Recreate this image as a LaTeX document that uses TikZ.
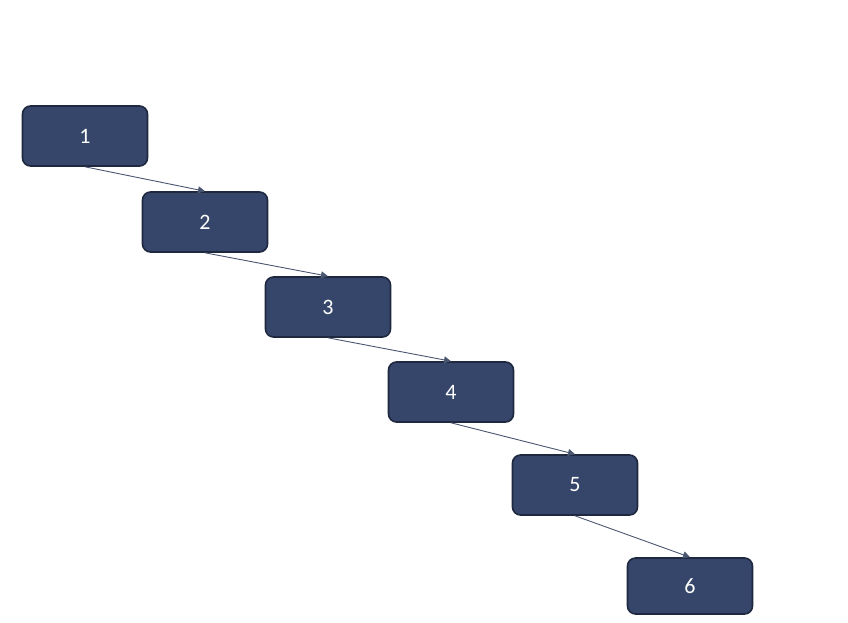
\documentclass[tikz,border=0pt]{standalone}
\usepackage{fontspec}
\setmainfont{Carlito}
\usetikzlibrary{arrows.meta}
\definecolor{boxfill}{HTML}{35466A}
\definecolor{boxline}{HTML}{1E2940}
\definecolor{arrowline}{HTML}{4A5670}
\tikzset{
  stepbox/.style={draw=boxline, line width=1.6pt, fill=boxfill, rounded corners=8pt,
    minimum width=125pt, minimum height=60pt, text=white, font=\fontsize{22}{26}\selectfont},
  link/.style={draw=arrowline, line width=0.9pt, -{Triangle[length=7pt,width=7pt]}}
}
\begin{document}
\begin{tikzpicture}[x=1pt, y=-1pt]
    \useasboundingbox (0,0) rectangle (848,622);
    \node[stepbox] (s1) at (85,136) {1};
    \node[stepbox] (s2) at (205,222) {2};
    \node[stepbox] (s3) at (328,307) {3};
    \node[stepbox] (s4) at (451,392) {4};
    \node[stepbox] (s5) at (575,485) {5};
    \node[stepbox, minimum height=56pt] (s6) at (690,586) {6};
    \draw[link] (s1.south) -- (s2.north);
    \draw[link] (s2.south) -- (s3.north);
    \draw[link] (s3.south) -- (s4.north);
    \draw[link] (s4.south) -- (s5.north);
    \draw[link] (s5.south) -- (s6.north);
  \end{tikzpicture}
\end{document}
